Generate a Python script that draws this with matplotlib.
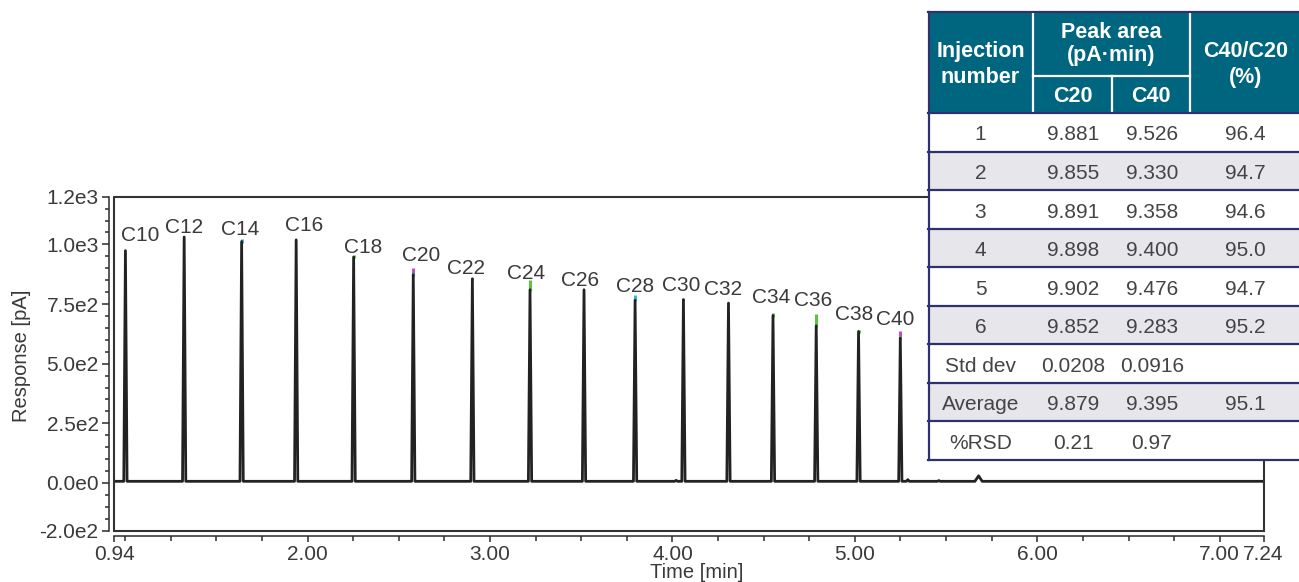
import matplotlib.pyplot as plt
from matplotlib.patches import Rectangle
import numpy as np

plt.rcParams['font.family'] = ['Liberation Sans', 'DejaVu Sans']

# labelled alkane peaks: retention time (min) and response (pA)
peak_names = ['C10', 'C12', 'C14', 'C16', 'C18', 'C20', 'C22', 'C24',
              'C26', 'C28', 'C30', 'C32', 'C34', 'C36', 'C38', 'C40']
peak_times = [1.001, 1.323, 1.638, 1.937, 2.252, 2.579, 2.903, 3.219,
              3.515, 3.795, 4.060, 4.307, 4.551, 4.788, 5.020, 5.249]
peak_heights = [974, 1031, 1012, 1019, 947, 873, 856, 810,
                810, 766, 768, 754, 702, 659, 635, 607]

# small unlabelled bumps
minor_times = [4.02, 5.29, 5.46, 5.678]
minor_heights = [11, 14, 10, 30]
baseline = 7

# other injections poking out above the black trace
tip_names = ['C14', 'C18', 'C20', 'C20', 'C22', 'C24', 'C28', 'C30',
             'C34', 'C36', 'C38', 'C40', 'C40']
tip_tops = [1024, 956, 903, 882, 861, 849, 790, 775,
            714, 708, 641, 635, 618]
tip_colors = ['#3db4d6', '#5cc43c', '#c04fc0', '#3db4d6', '#5cc43c', '#5cc43c',
              '#3db4d6', '#5cc43c', '#5cc43c', '#5cc43c', '#5cc43c', '#c04fc0',
              '#5cc43c']

# table
inj_labels = ['1', '2', '3', '4', '5', '6', 'Std dev', 'Average', '%RSD']
c20_area = ['9.881', '9.855', '9.891', '9.898', '9.902', '9.852', '0.0208', '9.879', '0.21']
c40_area = ['9.526', '9.330', '9.358', '9.400', '9.476', '9.283', '0.0916', '9.395', '0.97']
ratio = ['96.4', '94.7', '94.6', '95.0', '94.7', '95.2', '', '95.1', '']

# label offsets (pixels) from the top of each black peak
label_dx = [15, 0, -1, 7.5, 9.5, 7.5, -6.5, -4, -4, 0, -2.5, -5, -2, -3.5, -4, -5.5]
label_dy = [16.7, 11.5, 14.2, 16.2, 11.5, 20.8, 12.7, 18.3,
            10.8, 16, 15.8, 15.8, 20.5, 26.8, 19.2, 20.8]

W, H = 1299, 582
fig = plt.figure(figsize=(W / 100, H / 100), dpi=100)
ax = fig.add_axes([114.3 / W, (H - 530.7) / H, (1263.5 - 114.3) / W, (530.7 - 196.7) / H])

txt = '#3a3a3a'
dark = '#2b2b2b'

# build chromatogram polyline from the peak lists
all_t = peak_times + minor_times
all_h = peak_heights + minor_heights
all_w = [0.009] * len(peak_times) + [0.008, 0.008, 0.008, 0.02]
xs, ys = [0.94], [baseline]
for i in np.argsort(all_t):
    xs += [all_t[i] - all_w[i], all_t[i], all_t[i] + all_w[i]]
    ys += [baseline, all_h[i], baseline]
xs.append(7.24)
ys.append(baseline)

for n, top, c in zip(tip_names, tip_tops, tip_colors):
    k = peak_names.index(n)
    ax.vlines(peak_times[k], peak_heights[k] - 5, top, colors=c, lw=2.2, zorder=2)
ax.plot(xs, ys, color='#222222', lw=2.0, zorder=3, solid_joinstyle='round')

for k, name in enumerate(peak_names):
    ax.annotate(name, (peak_times[k], peak_heights[k]),
                xytext=(label_dx[k], label_dy[k] - 7.5), textcoords='offset pixels',
                ha='center', va='baseline', fontsize=15, color=txt)

ax.set_xlim(0.94, 7.24)
ax.set_ylim(-200, 1200)

for s in ['top', 'right']:
    ax.spines[s].set_visible(False)
for s in ['left', 'bottom']:
    ax.spines[s].set_position(('outward', 3.8))
    ax.spines[s].set_color(dark)
    ax.spines[s].set_linewidth(1.1)
ax.add_patch(Rectangle((0, 0), 1, 1, transform=ax.transAxes, fill=False,
                       ec='#333333', lw=1.5, clip_on=False, zorder=4))

xt = [0.94, 2, 3, 4, 5, 6, 7, 7.24]
ax.set_xticks(xt)
ax.set_xticklabels(['0.94', '2.00', '3.00', '4.00', '5.00', '6.00', '7.00', '7.24'])
ax.set_xticks([1 + 0.25 * i for i in range(25) if (1 + 0.25 * i) % 1 != 0 or i == 0], minor=True)
yt = [-200, 0, 250, 500, 750, 1000, 1200]
ax.set_yticks(yt)
ax.set_yticklabels(['-2.0e2', '0.0e0', '2.5e2', '5.0e2', '7.5e2', '1.0e3', '1.2e3'])
ax.set_yticks([v for v in range(-150, 1200, 50) if v not in yt], minor=True)
ax.tick_params(axis='both', which='both', direction='out', color=dark, width=1.1,
               labelcolor=txt, labelsize=15, pad=2.5)
ax.tick_params(axis='y', which='major', length=5)
ax.tick_params(axis='y', which='minor', length=3)
ax.tick_params(axis='x', which='major', length=4.3)
ax.tick_params(axis='x', which='minor', length=3.6)

fig.text(22 / W, 1 - 356 / H, 'Response [pA]', rotation=90, ha='center', va='center',
         fontsize=14.5, color=txt)
fig.text(697 / W, 1 - 572 / H, 'Time [min]', ha='center', va='center',
         fontsize=14.5, color=txt)

# table overlay in pixel coordinates
tab = fig.add_axes([0, 0, 1, 1])
tab.set_xlim(0, W)
tab.set_ylim(H, 0)
tab.axis('off')

teal = '#00667f'
navy = '#2e3070'
grey = '#e6e6eb'
x0, x1, x2, x3, x4 = 928, 1033, 1112, 1190, 1299
hy0, hy1, hy2 = 12, 76, 113
rh = (460 - hy2) / 9

tab.add_patch(Rectangle((x0, hy0), x4 - x0, hy2 - hy0, fc=teal, ec='none'))
tab.plot([x1, x1], [hy0, hy2], color='white', lw=1.6)
tab.plot([x3, x3], [hy0, hy2], color='white', lw=1.6)
tab.plot([x1, x3], [hy1, hy1], color='white', lw=1.6)
tab.plot([x2, x2], [hy1, hy2], color='white', lw=1.6)

hkw = dict(ha='center', va='baseline', color='white', fontsize=15.5, fontweight='bold')
tab.text((x0 + x1) / 2, 57, 'Injection', **hkw)
tab.text((x0 + x1) / 2, 83, 'number', **hkw)
tab.text((x1 + x3) / 2, 38, 'Peak area', **hkw)
tab.text((x1 + x3) / 2, 61.5, '(pA·min)', **hkw)
tab.text((x1 + x2) / 2, 101.5, 'C20', **hkw)
tab.text((x2 + x3) / 2, 101.5, 'C40', **hkw)
tab.text((x3 + x4) / 2 + 1, 57, 'C40/C20', **hkw)
tab.text((x3 + x4) / 2 + 1, 83, '(%)', **hkw)

bkw = dict(ha='center', va='baseline', color='#444444', fontsize=15)
for i in range(9):
    top = hy2 + i * rh
    tab.add_patch(Rectangle((x0, top), x4 - x0, rh, fc=grey if i % 2 else 'white', ec='none'))
    tab.text((x0 + x1) / 2, top + 27.5, inj_labels[i], **bkw)
    tab.text((x1 + x2) / 2 + 1, top + 27.5, c20_area[i], **bkw)
    tab.text((x2 + x3) / 2 + 1, top + 27.5, c40_area[i], **bkw)
    tab.text((x3 + x4) / 2 + 1, top + 27.5, ratio[i], **bkw)
    tab.plot([x0, x4], [top + rh, top + rh], color=navy, lw=1.6)
tab.plot([x0, x4], [hy2, hy2], color=navy, lw=1.6)
tab.plot([x0, x4], [hy0, hy0], color=navy, lw=1.6)
tab.plot([x0 + 0.8, x0 + 0.8], [hy0, 460], color=navy, lw=1.6)

fig.savefig('out.png', dpi=100)
